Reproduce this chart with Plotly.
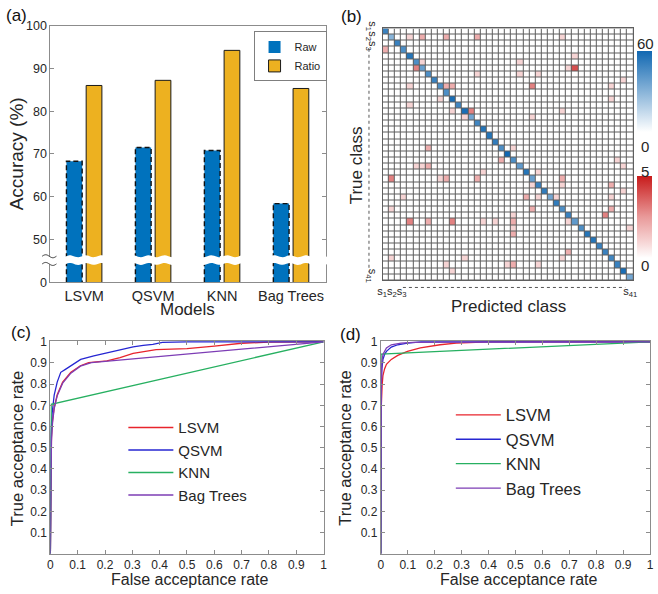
import numpy as np
import plotly.graph_objects as go

FONT = "Arial, 'Liberation Sans', sans-serif"
TXT = "#262626"
AX = "#8c8c8c"
W, H = 658, 594

# ---------------- (a) accuracy bars ----------------
models = ["LSVM", "QSVM", "KNN", "Bag Trees"]
acc_raw = [68.3, 71.5, 70.8, 58.4]
acc_ratio = [86.0, 87.2, 94.2, 85.3]
acc_tickvals = [40, 50, 60, 70, 80, 90, 100]
acc_ticktext = ["0", "50", "60", "70", "80", "90", "100"]
acc_break = [44.3, 46.1]

# ---------------- (b) confusion matrix ----------------
n_classes = 41
diag_counts = [50, 30, 50, 45, 55, 45, 38, 45, 50, 45, 45, 58, 48, 58, 35, 48, 55, 55, 52, 45, 60,
               45, 40, 55, 38, 50, 52, 35, 52, 45, 50, 40, 45, 55, 55, 50, 50, 48, 50, 58, 35]
off_rows = [2, 2, 2, 2, 2, 4, 5, 6, 6, 7, 7, 7, 8, 8, 8, 9, 10, 10, 10, 10, 10, 12, 12, 13, 14, 14, 14,
            15, 15, 20, 20, 22, 22, 23, 23, 23, 23, 24, 24, 25, 25, 25, 25, 25, 26, 26, 26, 27, 28, 28,
            28, 28, 28, 30, 30, 30, 31, 31, 32, 32, 32, 32, 32, 32, 32, 33, 33, 34, 37, 38, 38, 38,
            39, 39, 39, 39, 40]
off_cols = [5, 7, 11, 16, 30, 1, 32, 7, 23, 6, 31, 32, 16, 23, 26, 40, 5, 11, 12, 25, 38, 10, 38, 5, 12, 15, 30,
            14, 25, 8, 22, 20, 39, 6, 7, 8, 40, 17, 26, 2, 10, 11, 16, 30, 25, 30, 38, 40, 4, 24,
            26, 29, 38, 2, 25, 38, 22, 37, 5, 8, 12, 17, 19, 22, 31, 22, 41, 22, 31, 2, 14, 30,
            11, 21, 22, 26, 12]
off_vals = [1, 2, 2, 2, 1, 2, 1, 1, 1, 3, 1, 4, 1, 1, 1, 1, 1, 2, 2, 3, 1, 1, 1, 1, 1, 3, 1,
            1, 1, 2, 1, 2, 1, 1, 1, 2, 1, 1, 1, 3, 1, 2, 2, 2, 1, 1, 2, 1, 1, 2,
            1, 1, 1, 1, 2, 2, 1, 3, 3, 2, 3, 1, 1, 2, 1, 1, 1, 2, 2, 1, 1, 1,
            1, 1, 2, 1, 1]
cm_tickvals = [2, 41]
cm_ticktext = ["s<sub>1</sub>s<sub>2</sub>s<sub>3</sub>", "s<sub>41</sub>"]

# ---------------- (c) ROC, raw features ----------------
lsvm_c_far = [0, 0.001, 0.004, 0.008, 0.014, 0.025, 0.045, 0.075, 0.11, 0.14, 0.17, 0.207, 0.255, 0.303, 0.387, 0.5, 0.6, 0.7, 0.8, 1.0]
lsvm_c_tar = [0, 0.40, 0.55, 0.63, 0.69, 0.75, 0.81, 0.856, 0.887, 0.902, 0.905, 0.91, 0.925, 0.945, 0.963, 0.968, 0.98, 0.993, 0.998, 1.0]
qsvm_c_far = [0, 0.001, 0.002, 0.006, 0.014, 0.025, 0.038, 0.055, 0.075, 0.111, 0.159, 0.207, 0.255, 0.303, 0.34, 0.375, 0.41, 0.5, 1.0]
qsvm_c_tar = [0, 0.45, 0.566, 0.657, 0.749, 0.81, 0.856, 0.87, 0.887, 0.917, 0.933, 0.948, 0.963, 0.976, 0.983, 0.988, 0.997, 1.0, 1.0]
knn_c_far = [0, 0.003, 1.0]
knn_c_tar = [0, 0.705, 1.0]
bag_c_far = [0, 0.001, 0.004, 0.008, 0.014, 0.025, 0.045, 0.075, 0.11, 0.15, 0.4, 0.7, 1.0]
bag_c_tar = [0, 0.38, 0.53, 0.62, 0.685, 0.745, 0.805, 0.852, 0.885, 0.902, 0.932, 0.965, 1.0]

# ---------------- (d) ROC, ratio features ----------------
lsvm_d_far = [0, 0.0005, 0.002, 0.005, 0.008, 0.014, 0.021, 0.039, 0.063, 0.099, 0.147, 0.22, 0.28, 0.4, 1.0]
lsvm_d_tar = [0, 0.45, 0.70, 0.795, 0.84, 0.872, 0.894, 0.917, 0.936, 0.955, 0.971, 0.986, 0.994, 1.0, 1.0]
qsvm_d_far = [0, 0.0005, 0.002, 0.004, 0.008, 0.014, 0.021, 0.039, 0.063, 0.099, 0.15, 1.0]
qsvm_d_tar = [0, 0.5, 0.8, 0.872, 0.917, 0.94, 0.955, 0.975, 0.986, 0.994, 1.0, 1.0]
knn_d_far = [0, 0.001, 1.0]
knn_d_tar = [0, 0.942, 1.0]
bag_d_far = [0, 0.0005, 0.002, 0.004, 0.008, 0.021, 0.039, 0.075, 0.12, 0.3, 0.7, 1.0]
bag_d_tar = [0, 0.55, 0.82, 0.9, 0.94, 0.971, 0.986, 0.994, 0.997, 0.998, 0.999, 1.0]

roc_names = ["LSVM", "QSVM", "KNN", "Bag Trees"]
roc_colors = ["#e8242c", "#2626d2", "#27b061", "#7d3db5"]
roc_ticks = [0, 0.1, 0.2, 0.3, 0.4, 0.5, 0.6, 0.7, 0.8, 0.9, 1]


def xd(a, b):
    return [a / W, b / W]


def yd(top, bottom):
    return [1 - bottom / H, 1 - top / H]


fig = go.Figure()

# ---- (a) ----
xi = list(range(len(models)))
bw, raw_off, ratio_off = 0.228, -0.257, 0.029
fig.add_trace(go.Bar(x=xi, y=acc_raw, name="Raw", width=bw, offset=raw_off,
                     marker=dict(color="#0072BD", line=dict(width=0)),
                     xaxis="x", yaxis="y", legend="legend"))
fig.add_trace(go.Bar(x=xi, y=acc_ratio, name="Ratio", width=bw, offset=ratio_off,
                     marker=dict(color="#EDB120", line=dict(color="#1a1a1a", width=1)),
                     xaxis="x", yaxis="y", legend="legend"))
ox, oy = [], []
for i, v in zip(xi, acc_raw):
    x0, x1 = i + raw_off, i + raw_off + bw
    ox += [x0, x0, x1, x1, None]
    oy += [acc_tickvals[0], v, v, acc_tickvals[0], None]
fig.add_trace(go.Scatter(x=ox, y=oy, mode="lines", showlegend=False, hoverinfo="skip",
                         line=dict(color="#111111", width=1.4, dash="5px,3px"),
                         xaxis="x", yaxis="y"))

# ---- (b) ----
cls = list(range(1, n_classes + 1))
zd = np.full((n_classes, n_classes), np.nan)
zo = np.zeros((n_classes, n_classes))
for k, v in enumerate(diag_counts):
    zd[k, k] = v
    zo[k, k] = np.nan
for r, c, v in zip(off_rows, off_cols, off_vals):
    zo[r - 1, c - 1] = v

cb_common = dict(x=641 / W, xanchor="left", thickness=15, thicknessmode="pixels",
                 lenmode="fraction", xpad=0, ypad=0, outlinewidth=0,
                 showticklabels=False, ticks="", yanchor="middle")
fig.add_trace(go.Heatmap(x=cls, y=cls, z=zo, zmin=0, zmax=5, xgap=1, ygap=1,
                         colorscale=[[0, "#ffffff"], [0.2, "#f6d4d4"], [0.5, "#e99a9a"], [1, "#c81b1b"]],
                         colorbar=dict(y=1 - 215 / H, len=84 / H, **cb_common),
                         xaxis="x2", yaxis="y2", hoverinfo="skip"))
fig.add_trace(go.Heatmap(x=cls, y=cls, z=zd, zmin=0, zmax=60, xgap=1, ygap=1,
                         colorscale=[[0, "#ffffff"], [1, "#1168b2"]],
                         colorbar=dict(y=1 - 86.5 / H, len=83 / H, **cb_common),
                         xaxis="x2", yaxis="y2", hoverinfo="skip"))

# ---- (c) & (d) ----
sets_c = [(lsvm_c_far, lsvm_c_tar), (qsvm_c_far, qsvm_c_tar), (knn_c_far, knn_c_tar), (bag_c_far, bag_c_tar)]
sets_d = [(lsvm_d_far, lsvm_d_tar), (qsvm_d_far, qsvm_d_tar), (knn_d_far, knn_d_tar), (bag_d_far, bag_d_tar)]
for (fx, fy), nm, col in zip(sets_c, roc_names, roc_colors):
    fig.add_trace(go.Scatter(x=fx, y=fy, mode="lines", name=nm, line=dict(color=col, width=1.3),
                             xaxis="x3", yaxis="y3", legend="legend2", legendgroup="c" + nm))
for (fx, fy), nm, col in zip(sets_d, roc_names, roc_colors):
    fig.add_trace(go.Scatter(x=fx, y=fy, mode="lines", name=nm, line=dict(color=col, width=1.3),
                             xaxis="x4", yaxis="y4", legend="legend3", legendgroup="d" + nm))

tickfont = dict(family=FONT, size=12, color=TXT)
roc_x = dict(range=[0, 1], tickvals=roc_ticks, ticktext=[f"{t:g}" for t in roc_ticks],
             ticks="inside", ticklen=4, tickcolor=AX, showline=True, linecolor=AX, linewidth=1,
             mirror="ticks", showgrid=False, zeroline=False, tickfont=tickfont)
roc_y = dict(range=[0, 1.004], tickvals=roc_ticks[1:], ticktext=[f"{t:g}" for t in roc_ticks[1:]],
             ticks="inside", ticklen=4, tickcolor=AX, showline=True, linecolor=AX, linewidth=1,
             mirror="ticks", showgrid=False, zeroline=False, tickfont=tickfont)

# ---- shapes ----
shapes = []
t = np.linspace(-0.04, 1.04, 200)
wave = 0.22 * np.sin(2 * np.pi * t * 17.5)
top = acc_break[1] + wave
bot = acc_break[0] + wave
pts = [f"{a:.4f},{b:.3f}" for a, b in zip(t, top)] + [f"{a:.4f},{b:.3f}" for a, b in zip(t[::-1], bot[::-1])]
shapes.append(dict(type="path", xref="x domain", yref="y", path="M" + " L".join(pts) + " Z",
                   fillcolor="white", line=dict(width=0), layer="above"))
ts = np.linspace(-0.03, 0.022, 30)
for yb in acc_break:
    sq = [f"{a:.4f},{yb + 0.35 * np.sin(2 * np.pi * (a + 0.03) / 0.052):.3f}" for a in ts]
    shapes.append(dict(type="path", xref="x domain", yref="y", path="M" + " L".join(sq),
                       line=dict(color="#333333", width=1), layer="above"))
# grid background for confusion matrix
shapes.append(dict(type="rect", xref="x2 domain", yref="y2 domain", x0=0, x1=1, y0=0, y1=1,
                   fillcolor="#5e5e5e", line=dict(width=0), layer="below"))
# dotted guides along matrix labels
shapes.append(dict(type="line", xref="x2", yref="y2 domain", x0=3.8, x1=40.2, y0=-0.028, y1=-0.028,
                   line=dict(color="#555555", width=1, dash="dot")))
shapes.append(dict(type="line", xref="x2 domain", yref="y2", x0=-0.055, x1=-0.055, y0=3.8, y1=40.2,
                   line=dict(color="#555555", width=1, dash="dot")))


def ann(text, x, y, size, angle=0, color=TXT):
    return dict(text=text, x=x / W, y=1 - y / H, xref="paper", yref="paper", showarrow=False,
                xanchor="center", yanchor="middle", textangle=angle,
                font=dict(family=FONT, size=size, color=color))


annotations = [
    ann("(a)", 12, 9, 17, color="#111"), ann("(b)", 351, 10, 17, color="#111"),
    ann("(c)", 16, 333, 17, color="#111"), ann("(d)", 350, 335, 17, color="#111"),
    ann("Accuracy (%)", 12, 150, 19, -90), ann("Models", 185, 310, 17),
    ann("True class", 356, 162, 17, -90), ann("Predicted class", 510, 307, 17),
    ann("True acceptance rate", 13, 452, 16.5, -90), ann("False acceptance rate", 188, 586, 16),
    ann("True acceptance rate", 345, 452, 16.5, -90), ann("False acceptance rate", 521, 586, 16),
    ann("60", 649, 37.5, 15), ann("0", 649, 143, 15), ann("5", 649, 168, 15), ann("0", 649, 265, 15),
]

fig.update_layout(
    width=W, height=H, margin=dict(l=0, r=0, t=0, b=0),
    paper_bgcolor="white", plot_bgcolor="white",
    font=dict(family=FONT, color=TXT),
    barmode="overlay", showlegend=True,
    xaxis=dict(domain=xd(46, 325), anchor="y", range=[-0.49, 3.5], tickvals=xi, ticktext=models,
               ticks="", showline=True, linecolor=AX, linewidth=1, mirror=True, showgrid=False,
               zeroline=False, tickangle=0, tickfont=dict(family=FONT, size=14.5, color=TXT)),
    yaxis=dict(domain=yd(19, 282), anchor="x", range=[acc_tickvals[0], acc_tickvals[-1]],
               tickvals=acc_tickvals, ticktext=acc_ticktext, ticks="inside", ticklen=4, tickcolor=AX,
               showline=True, linecolor=AX, linewidth=1, mirror="ticks", showgrid=False, zeroline=False,
               tickfont=dict(family=FONT, size=12.5, color=TXT)),
    xaxis2=dict(domain=xd(383, 637), anchor="y2", range=[0.5, n_classes + 0.5],
                tickvals=cm_tickvals, ticktext=cm_ticktext, tickangle=0, ticks="",
                showline=True, linecolor="#5e5e5e", mirror=True, showgrid=False, zeroline=False,
                tickfont=dict(family=FONT, size=11, color=TXT)),
    yaxis2=dict(domain=yd(22, 280), anchor="x2", range=[n_classes + 0.5, 0.5],
                tickvals=cm_tickvals, ticktext=cm_ticktext, tickangle=90, ticks="",
                showline=True, linecolor="#5e5e5e", mirror=True, showgrid=False, zeroline=False,
                tickfont=dict(family=FONT, size=11, color=TXT)),
    xaxis3=dict(domain=xd(46, 323), anchor="y3", **roc_x),
    yaxis3=dict(domain=yd(342, 560), anchor="x3", **roc_y),
    xaxis4=dict(domain=xd(381, 654), anchor="y4", **roc_x),
    yaxis4=dict(domain=yd(342, 560), anchor="x4", **roc_y),
    legend=dict(x=252 / W, y=1 - 25 / H, xanchor="left", yanchor="top", bgcolor="white",
                bordercolor="#7f7f7f", borderwidth=1, font=dict(family=FONT, size=11, color=TXT),
                tracegroupgap=0),
    legend2=dict(x=120 / W, y=1 - 414 / H, xanchor="left", yanchor="top", bgcolor="rgba(0,0,0,0)",
                 borderwidth=0, font=dict(family=FONT, size=15, color=TXT), itemwidth=45,
                 tracegroupgap=0),
    legend3=dict(x=452 / W, y=1 - 400 / H, xanchor="left", yanchor="top", bgcolor="rgba(0,0,0,0)",
                 borderwidth=0, font=dict(family=FONT, size=16.5, color=TXT), itemwidth=45,
                 tracegroupgap=0),
    shapes=shapes, annotations=annotations,
)

fig.write_html("out.html", config={"displayModeBar": False},
               post_script="document.body.style.margin='0';document.body.style.padding='0';")
